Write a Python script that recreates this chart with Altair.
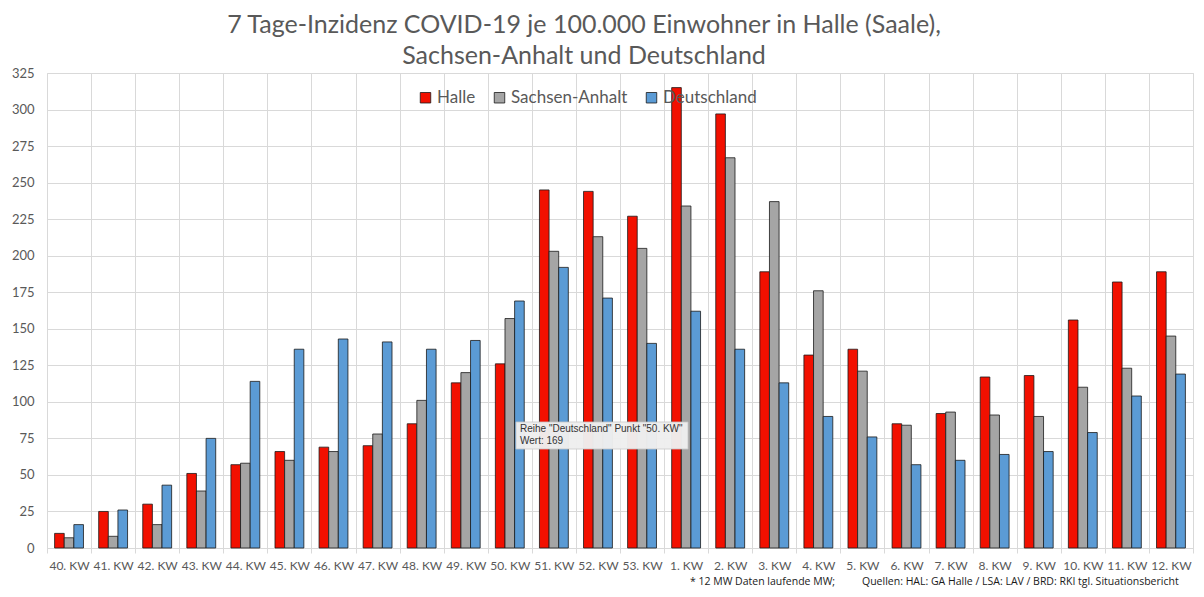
import altair as alt
import pandas as pd

weeks = ["40. KW", "41. KW", "42. KW", "43. KW", "44. KW", "45. KW", "46. KW", "47. KW",
         "48. KW", "49. KW", "50. KW", "51. KW", "52. KW", "53. KW", "1. KW", "2. KW",
         "3. KW", "4. KW", "5. KW", "6. KW", "7. KW", "8. KW", "9. KW", "10. KW",
         "11. KW", "12. KW"]
series = ["Halle", "Sachsen-Anhalt", "Deutschland"]
colors = ["#f21000", "#a5a5a5", "#5b9bd5"]
halle = [10, 25, 30, 51, 57, 66, 69, 70, 85, 113, 126, 245, 244, 227, 315, 297,
         189, 132, 136, 85, 92, 117, 118, 156, 182, 189]
sachsen_anhalt = [7, 8, 16, 39, 58, 60, 66, 78, 101, 120, 157, 203, 213, 205, 234, 267,
                  237, 176, 121, 84, 93, 91, 90, 110, 123, 145]
deutschland = [16, 26, 43, 75, 114, 136, 143, 141, 136, 142, 169, 192, 171, 140, 162, 136,
               113, 90, 76, 57, 60, 64, 66, 79, 104, 119]
y_ticks = list(range(0, 326, 25))
title_lines = ["7 Tage-Inzidenz COVID-19 je 100.000 Einwohner in Halle (Saale),",
               "Sachsen-Anhalt und Deutschland"]
tooltip_lines = ['Reihe "Deutschland" Punkt "50. KW"', "Wert: 169"]
footer_left = "* 12 MW Daten laufende MW;"
footer_right = "Quellen: HAL: GA Halle / LSA: LAV /  BRD: RKI tgl. Situationsbericht"

rows = []
for name, vals in zip(series, [halle, sachsen_anhalt, deutschland]):
    for w, v in zip(weeks, vals):
        rows.append({"KW": w, "Reihe": name, "Wert": v})
df = pd.DataFrame(rows)

FONT = "Lato"
TXT = "#595959"
GRID = "#d9d9d9"

bars = alt.Chart(df).mark_bar(stroke="#1a1a1a", strokeWidth=0.8).encode(
    x=alt.X("KW:N", sort=weeks, title=None,
            scale=alt.Scale(paddingInner=0, paddingOuter=0),
            axis=alt.Axis(tickBand="extent", labelAngle=0, labelFont=FONT, labelFontSize=12,
                          labelColor=TXT, labelPadding=7, grid=True, gridColor=GRID,
                          domainColor=GRID, tickColor=GRID, tickSize=5, labelOverlap=False)),
    xOffset=alt.XOffset("Reihe:N", sort=series,
                        scale=alt.Scale(paddingInner=0, paddingOuter=0.79)),
    y=alt.Y("Wert:Q", title=None,
            scale=alt.Scale(domain=[0, 325], nice=False),
            axis=alt.Axis(values=y_ticks, labelFont=FONT, labelFontSize=13, labelColor=TXT,
                          ticks=False, domain=False, gridColor=GRID, labelPadding=13)),
    color=alt.Color("Reihe:N", sort=series,
                    scale=alt.Scale(domain=series, range=colors),
                    legend=alt.Legend(orient="none", direction="horizontal", title=None,
                                      legendX=370, legendY=16, padding=0,
                                      symbolType="square", symbolSize=110,
                                      symbolStrokeColor="#1a1a1a", symbolStrokeWidth=0.8,
                                      labelFont=FONT, labelFontSize=17, labelColor=TXT,
                                      labelOffset=3, columnPadding=15)),
)

tip_box = alt.Chart(pd.DataFrame({"a": [0]})).mark_rect(
    fill="#efefef", stroke="#c8c8c8", strokeWidth=0.8, opacity=0.97
).encode(x=alt.value(469), x2=alt.value(641), y=alt.value(349), y2=alt.value(376))
tip_1 = alt.Chart(pd.DataFrame({"t": [tooltip_lines[0]]})).mark_text(
    align="left", baseline="middle", font="Liberation Sans", fontSize=10, color="#333333"
).encode(x=alt.value(473), y=alt.value(356), text="t:N")
tip_2 = alt.Chart(pd.DataFrame({"t": [tooltip_lines[1]]})).mark_text(
    align="left", baseline="middle", font="Liberation Sans", fontSize=10, color="#333333"
).encode(x=alt.value(473), y=alt.value(368), text="t:N")

foot_1 = alt.Chart(pd.DataFrame({"t": [footer_left]})).mark_text(
    align="left", baseline="alphabetic", font="Open Sans", fontSize=10.5, color="#1a1a1a"
).encode(x=alt.value(643), y=alt.value(512), text="t:N")
foot_2 = alt.Chart(pd.DataFrame({"t": [footer_right]})).mark_text(
    align="left", baseline="alphabetic", font="Open Sans", fontSize=10.5, color="#1a1a1a"
).encode(x=alt.value(815), y=alt.value(512), text="t:N")

chart = alt.layer(bars, tip_box, tip_1, tip_2, foot_1, foot_2).properties(
    width=1146, height=475,
    title=alt.Title(title_lines, font=FONT, fontSize=25, fontWeight="normal", color=TXT,
                    anchor="middle", dx=-36, offset=-2, lineHeight=31),
    padding={"left": 39, "top": 65, "right": 2, "bottom": 42},
    autosize=alt.AutoSizeParams(type="none"),
).configure_view(stroke=None).configure(background="white")

chart.save("out.html", embed_options={"renderer": "svg", "actions": False})
